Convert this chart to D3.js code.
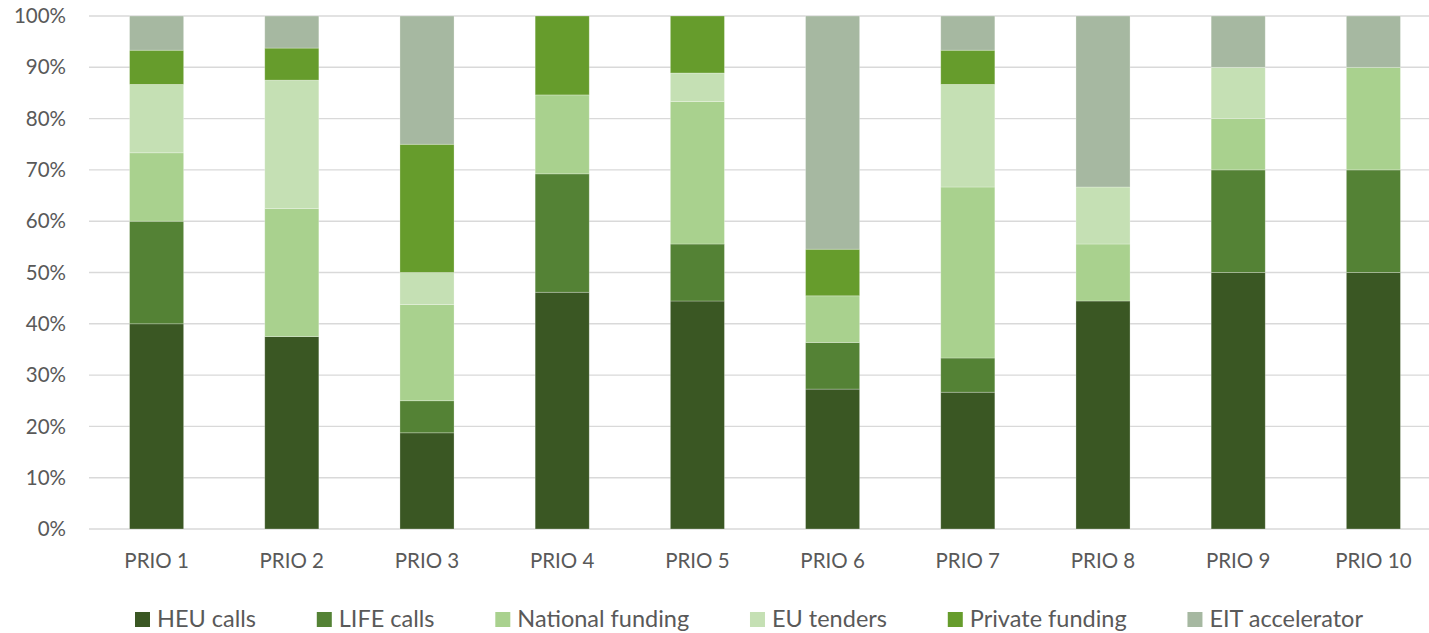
<!DOCTYPE html>
<html>
<head>
<meta charset="utf-8">
<script src="https://cdn.jsdelivr.net/npm/d3@7"></script>
<style>
  body { margin: 0; background: #fff; }
  text { font-family: Lato, "Open Sans", sans-serif; fill: #595959; }
</style>
</head>
<body>
<svg id="chart" width="1429" height="633"></svg>
<script>
var categories = ["PRIO 1","PRIO 2","PRIO 3","PRIO 4","PRIO 5","PRIO 6","PRIO 7","PRIO 8","PRIO 9","PRIO 10"];
var seriesNames = ["HEU calls","LIFE calls","National funding","EU tenders","Private funding","EIT accelerator"];

// number of actions per funding source, per priority (shares)
var heuCalls        = [6, 6, 3, 6, 8, 3, 4, 4, 5, 5];
var lifeCalls       = [3, 0, 1, 3, 2, 1, 1, 0, 2, 2];
var nationalFunding = [2, 4, 3, 2, 5, 1, 5, 1, 1, 2];
var euTenders       = [2, 4, 1, 0, 1, 0, 3, 1, 1, 0];
var privateFunding  = [1, 1, 4, 2, 2, 1, 1, 0, 0, 0];
var eitAccelerator  = [1, 1, 4, 0, 0, 5, 1, 3, 1, 1];

var yTicks = [0, 0.1, 0.2, 0.3, 0.4, 0.5, 0.6, 0.7, 0.8, 0.9, 1];
var colors = ["#3a5723", "#548235", "#a9d18e", "#c5e0b4", "#669c2c", "#a6b8a1"];

var seriesValues = [heuCalls, lifeCalls, nationalFunding, euTenders, privateFunding, eitAccelerator];

var rows = categories.map(function(c, i) {
  var r = {cat: c};
  seriesNames.forEach(function(s, j) { r[s] = seriesValues[j][i]; });
  return r;
});

var svg = d3.select("#chart");

var x = d3.scaleBand()
    .domain(categories)
    .range([89, 1441])
    .paddingInner(0.6)
    .paddingOuter(0.3);

var y = d3.scaleLinear()
    .domain([0, 1])
    .range([529, 16]);

var color = d3.scaleOrdinal()
    .domain(seriesNames)
    .range(colors);

var stack = d3.stack()
    .keys(seriesNames)
    .offset(d3.stackOffsetExpand);

// gridlines
svg.append("g")
    .selectAll("line")
    .data(yTicks)
    .enter().append("line")
    .attr("x1", 89)
    .attr("x2", 1441)
    .attr("y1", function(d) { return y(d); })
    .attr("y2", function(d) { return y(d); })
    .style("stroke", "#d9d9d9")
    .style("stroke-width", 1.4);

// y labels
svg.append("g")
    .selectAll("text")
    .data(yTicks)
    .enter().append("text")
    .attr("x", 66)
    .attr("y", function(d) { return y(d); })
    .attr("dy", "0.35em")
    .attr("text-anchor", "end")
    .style("font-size", "20.5px")
    .text(d3.format(".0%"));

// bars
svg.append("g")
    .selectAll("g")
    .data(stack(rows))
    .enter().append("g")
    .style("fill", function(d) { return color(d.key); })
  .selectAll("rect")
    .data(function(d) { return d; })
    .enter().append("rect")
    .attr("x", function(d) { return x(d.data.cat); })
    .attr("width", x.bandwidth())
    .attr("y", function(d) { return y(d[1]); })
    .attr("height", function(d) { return y(d[0]) - y(d[1]); })
    .style("stroke", "#ffffff")
    .style("stroke-opacity", 0.35)
    .style("stroke-width", 0.75);

// x labels
svg.append("g")
    .selectAll("text")
    .data(categories)
    .enter().append("text")
    .attr("x", function(d) { return x(d) + x.bandwidth() / 2; })
    .attr("y", 568)
    .attr("text-anchor", "middle")
    .style("font-size", "20.5px")
    .text(function(d) { return d; });

// legend
var legend = svg.append("g");
var items = legend.selectAll("g")
    .data(seriesNames)
    .enter().append("g");

items.append("rect")
    .attr("width", 15)
    .attr("height", 15)
    .attr("y", 612)
    .style("fill", function(d) { return color(d); });

items.append("text")
    .attr("x", 22)
    .attr("y", 627)
    .style("font-size", "23.5px")
    .text(function(d) { return d; });

var widths = [];
items.each(function() { widths.push(22 + this.querySelector("text").getComputedTextLength()); });
var legStart = 135, legEnd = 1363;
var gap = (legEnd - legStart - d3.sum(widths)) / (widths.length - 1);
var pos = legStart;
items.attr("transform", function(d, i) {
  var t = "translate(" + pos + ",0)";
  pos += widths[i] + gap;
  return t;
});
</script>
</body>
</html>
